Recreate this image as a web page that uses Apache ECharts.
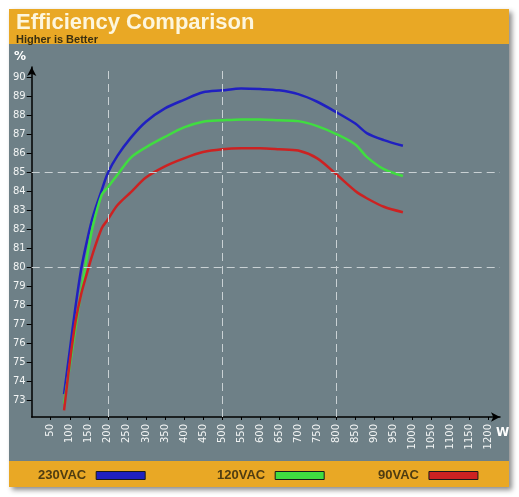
<!DOCTYPE html>
<html>
<head>
<meta charset="utf-8">
<script src="https://cdn.jsdelivr.net/npm/echarts@6/dist/echarts.min.js"></script>
<style>
  html, body { margin: 0; padding: 0; background: #fff; }
  #chart { width: 519px; height: 497px; }
</style>
</head>
<body>
<div id="chart"></div>
<script>
// load points (W)
const loadW = [85, 100, 115, 130, 145, 160, 184, 200, 225, 260, 300, 350, 400, 450, 500, 550, 600, 650, 700, 750, 800, 850, 880, 925, 975];
// efficiency (%)
const vac230 = [73.3, 75.6, 77.9, 79.9, 81.35, 82.6, 84.05, 84.95, 85.85, 86.8, 87.65, 88.35, 88.8, 89.2, 89.3, 89.4, 89.37, 89.3, 89.1, 88.7, 88.15, 87.55, 87.05, 86.68, 86.38];
const vac120 = [72.8, 74.8, 76.8, 78.7, 80.5, 82.1, 83.8, 84.2, 84.85, 85.75, 86.3, 86.85, 87.35, 87.65, 87.72, 87.77, 87.76, 87.72, 87.68, 87.42, 87.0, 86.45, 85.8, 85.15, 84.79];
const vac90 = [72.45, 74.98, 77.1, 78.58, 79.66, 80.68, 82.04, 82.5, 83.25, 83.93, 84.71, 85.3, 85.72, 86.05, 86.2, 86.25, 86.25, 86.2, 86.13, 85.72, 84.88, 84.0, 83.62, 83.17, 82.88];

const seriesNames = ['230VAC', '120VAC', '90VAC'];
const seriesColors = ['#2020c0', '#40dd40', '#cc2222'];

// tick labels
const xTicks = [50, 100, 150, 200, 250, 300, 350, 400, 450, 500, 550, 600, 650, 700, 750, 800, 850, 900, 950, 1000, 1050, 1100, 1150, 1200];
const yTicks = [73, 74, 75, 76, 77, 78, 79, 80, 81, 82, 83, 84, 85, 86, 87, 88, 89, 90];
const xGuides = [200, 500, 800];
const yGuides = [80, 85];

const chart = echarts.init(document.getElementById('chart'));

function pairs(vals) {
    return loadW.map((w, i) => [w, vals[i]]);
}

const guideLine = {
    silent: true,
    symbol: ['none', 'none'],
    label: { show: false },
    lineStyle: { color: '#c9d1d4', type: [8, 5], width: 1 },
    data: xGuides.map(v => ({ xAxis: v })).concat(yGuides.map(v => ({ yAxis: v })))
};

const legendBase = {
    icon: 'rect',
    itemWidth: 49,
    itemHeight: 8,
    align: 'right',
    top: 469,
    padding: 0,
    itemStyle: { borderColor: '#1a1a1a', borderWidth: 1 },
    textStyle: {
        fontFamily: 'Liberation Sans',
        fontWeight: 'bold',
        fontSize: 13,
        color: '#4e3c12',
        padding: [0, 5, 0, 0]
    },
    selectedMode: false
};

const option = {
    animation: false,
    graphic: [
        {
            type: 'rect', z: -10,
            shape: { x: 9, y: 9, width: 500, height: 478 },
            style: { fill: '#6e8087', shadowBlur: 5, shadowOffsetX: 3, shadowOffsetY: 3, shadowColor: 'rgba(0,0,0,0.45)' }
        },
        { type: 'rect', z: -9, shape: { x: 9, y: 9, width: 500, height: 35 }, style: { fill: '#e9a825' } },
        { type: 'rect', z: -9, shape: { x: 9, y: 461, width: 500, height: 26 }, style: { fill: '#e9a825' } },
        {
            type: 'text', left: 14, top: 51,
            style: { text: '%', fill: '#ffffff', font: 'bold 12px "DejaVu Sans"' }
        },
        {
            type: 'text', left: 496, top: 427,
            style: { text: 'W', fill: '#ffffff', font: 'bold 12px "DejaVu Sans"' }
        }
    ],
    title: {
        text: 'Efficiency Comparison',
        subtext: 'Higher is Better',
        left: 16,
        top: 12,
        padding: 0,
        itemGap: 0,
        textStyle: { fontFamily: 'Liberation Sans', fontWeight: 'bold', fontSize: 22, color: '#fdf6de' },
        subtextStyle: { fontFamily: 'Liberation Sans', fontWeight: 'bold', fontSize: 11, color: '#3a2f10' }
    },
    legend: [
        Object.assign({}, legendBase, { left: 38, data: [seriesNames[0]] }),
        Object.assign({}, legendBase, { left: 217, data: [seriesNames[1]] }),
        Object.assign({}, legendBase, { left: 378, data: [seriesNames[2]] })
    ],
    grid: { left: 31.7, right: 19, top: 67, bottom: 80 },
    xAxis: {
        type: 'value',
        min: 0,
        max: 1230,
        interval: 50,
        splitLine: { show: false },
        axisLine: {
            lineStyle: { color: '#000', width: 1.5 },
            symbol: ['none', 'arrow'],
            symbolSize: [7, 9]
        },
        axisTick: { customValues: xTicks, length: 3, lineStyle: { color: '#000' } },
        axisLabel: {
            customValues: xTicks,
            formatter: v => String(v),
            rotate: 90,
            margin: 7,
            color: '#f2f4f4',
            fontFamily: 'DejaVu Sans',
            fontSize: 10
        }
    },
    yAxis: {
        type: 'value',
        min: 72.1,
        max: 90.53,
        splitLine: { show: false },
        axisLine: {
            show: true,
            lineStyle: { color: '#000', width: 1.5 },
            symbol: ['none', 'arrow'],
            symbolSize: [7, 9]
        },
        axisTick: { show: true, customValues: yTicks, length: 5, lineStyle: { color: '#000' } },
        axisLabel: {
            customValues: yTicks,
            formatter: v => String(v),
            margin: 6,
            color: '#f2f4f4',
            fontFamily: 'DejaVu Sans',
            fontSize: 10
        }
    },
    series: [
        {
            name: seriesNames[0], type: 'line', data: pairs(vac230),
            showSymbol: false, smooth: 0.3, color: seriesColors[0],
            lineStyle: { width: 2.5 }, markLine: guideLine, z: 3
        },
        {
            name: seriesNames[1], type: 'line', data: pairs(vac120),
            showSymbol: false, smooth: 0.3, color: seriesColors[1],
            lineStyle: { width: 2.5 }, z: 3
        },
        {
            name: seriesNames[2], type: 'line', data: pairs(vac90),
            showSymbol: false, smooth: 0.3, color: seriesColors[2],
            lineStyle: { width: 2.5 }, z: 3
        }
    ]
};

chart.setOption(option);
</script>
</body>
</html>
